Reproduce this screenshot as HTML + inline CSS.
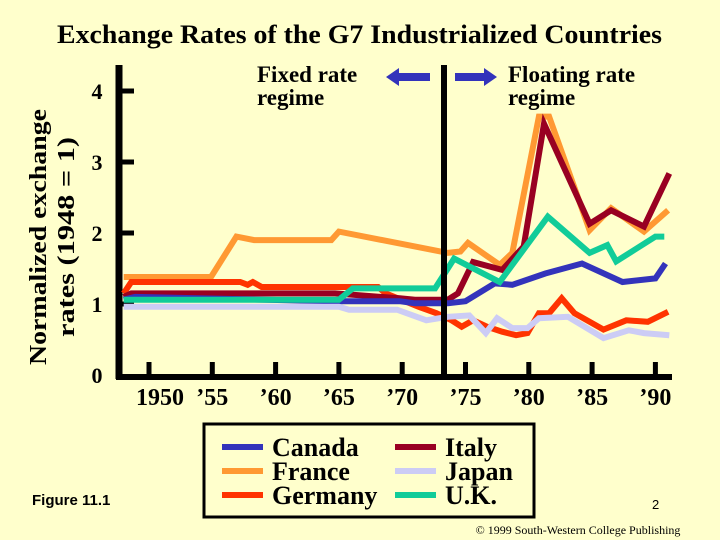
<!DOCTYPE html>
<html><head><meta charset="utf-8"><style>
body{margin:0;background:#ffffcc;}
svg{display:block;font-family:"Liberation Serif",serif;font-weight:bold;}
</style></head><body>
<svg id="chart" width="720" height="540" viewBox="0 0 720 540">
<rect width="720" height="540" fill="#ffffcc"/>
<text x="57" y="43" font-size="26" textLength="605" lengthAdjust="spacingAndGlyphs">Exchange Rates of the G7 Industrialized Countries</text>
<text transform="translate(46,237) rotate(-90)" font-size="24" text-anchor="middle"><tspan x="0" y="0" textLength="256" lengthAdjust="spacingAndGlyphs">Normalized exchange</tspan><tspan x="0" y="28" textLength="200" lengthAdjust="spacingAndGlyphs">rates (1948 = 1)</tspan></text>
<g id="axes"></g>
<g id="series"></g>
<line x1="444" y1="65" x2="444" y2="380" stroke="#000" stroke-width="6"/>
<text x="257" y="82" font-size="23"><tspan x="257" y="82">Fixed rate</tspan><tspan x="257" y="105">regime</tspan></text>
<polygon points="386,77 399,68 399,73 430,73 430,81 399,81 399,86" fill="#3333bb"/>
<polygon points="497,77 484,68 484,73 455,73 455,81 484,81 484,86" fill="#3333bb"/>
<text x="508" y="82" font-size="23"><tspan x="508" y="82">Floating rate</tspan><tspan x="508" y="105">regime</tspan></text>
<rect x="204" y="424" width="330" height="93" fill="none" stroke="#000" stroke-width="3"/>
<g id="legend"></g>
<text x="32" y="505" font-family="Liberation Sans, sans-serif" font-size="15">Figure 11.1</text>
<text x="652" y="509" font-family="Liberation Sans, sans-serif" font-size="13" font-weight="normal">2</text>
<text x="578" y="534" font-size="12" font-weight="normal" text-anchor="middle">© 1999 South-Western College Publishing</text>
</svg>
<script>
const yTicks=[0,1,2,3,4];
const xTickYears=[1950,1955,1960,1965,1970,1975,1980,1985,1990];
const xTickLabels=["1950","’55","’60","’65","’70","’75","’80","’85","’90"];
const canadaYears=[1948,1948.9,1964.7,1969.8,1971.0,1973.6,1975.0,1977.3,1978.7,1981.3,1984.2,1987.4,1990.0,1990.8];
const canadaVals=[1.06,1.1,1.04,1.04,1.01,1.01,1.04,1.29,1.27,1.43,1.57,1.31,1.36,1.57];
const franceYears=[1948,1954.9,1956.9,1958.3,1964.4,1965.0,1973.6,1974.6,1975.2,1977.7,1978.7,1980.8,1981.6,1984.8,1986.5,1989.1,1991.0];
const franceVals=[1.38,1.38,1.95,1.9,1.9,2.02,1.72,1.74,1.86,1.55,1.72,3.64,3.64,2.04,2.35,2.02,2.32];
const germanyYears=[1948,1948.6,1957.2,1957.8,1958.2,1958.9,1968.1,1968.7,1971.3,1972.7,1973.9,1974.7,1975.6,1976.7,1977.9,1979.0,1979.9,1980.8,1981.6,1982.6,1983.6,1985.9,1987.7,1989.4,1991.0];
const germanyVals=[1.15,1.31,1.31,1.27,1.31,1.24,1.24,1.15,0.96,0.87,0.77,0.68,0.77,0.68,0.61,0.56,0.59,0.87,0.87,1.08,0.87,0.64,0.77,0.75,0.89];
const italyYears=[1948,1948.6,1964.7,1969.8,1971.0,1973.6,1974.4,1975.6,1977.9,1979.6,1981.2,1984.8,1986.5,1989.1,1991.1];
const italyVals=[1.1,1.15,1.15,1.08,1.06,1.06,1.15,1.59,1.48,1.81,3.54,2.13,2.32,2.09,2.84];
const japanYears=[1948,1965.0,1965.8,1969.6,1971.9,1973.6,1975.3,1976.6,1977.5,1978.7,1979.9,1980.8,1983.1,1985.9,1987.9,1989.1,1991.1];
const japanVals=[0.96,0.96,0.92,0.92,0.77,0.82,0.84,0.59,0.8,0.66,0.66,0.8,0.82,0.52,0.63,0.59,0.56];
const ukYears=[1948,1965.0,1966.1,1972.6,1974.1,1977.7,1981.5,1984.8,1986.2,1986.9,1990.0,1990.7];
const ukVals=[1.06,1.06,1.22,1.22,1.64,1.31,2.23,1.72,1.83,1.6,1.95,1.95];
const seriesNames=["canada","france","germany","italy","japan","uk"];
const seriesLabels=["Canada","France","Germany","Italy","Japan","U.K."];
const seriesColors=["#3333bb","#ff9933","#ff3300","#990022","#ccccf5","#11cc99"];

const NS="http://www.w3.org/2000/svg";
function xs(yr){return 149+(yr-1950)*12.66;}
function ys(v){return 375-v*71;}
function mk(tag,attrs,parent){const e=document.createElementNS(NS,tag);for(const k in attrs)e.setAttribute(k,attrs[k]);parent.appendChild(e);return e;}

const axes=document.getElementById('axes');
let e=mk('line',{x1:119,y1:65,x2:119,y2:379,stroke:'#000','stroke-width':7},axes);


e=mk('line',{x1:116,y1:377,x2:672,y2:377,stroke:'#000','stroke-width':6},axes);


yTicks.forEach(t=>{
  if(t>0){const l=mk('line',{x1:119,y1:ys(t),x2:134,y2:ys(t),stroke:'#000','stroke-width':5},axes);
  
  }
  const tx=mk('text',{x:97,y:ys(t)+8,'font-size':22,'text-anchor':'middle'},axes);tx.textContent=t;
  
  
});
xTickYears.forEach(y=>{
  const l=mk('line',{x1:xs(y),y1:362,x2:xs(y),y2:377,stroke:'#000','stroke-width':5},axes);
  
  
});
xTickLabels.forEach((s,i)=>{
  const cx=i===0?160:xs(xTickYears[i]);
  const tx=mk('text',{x:cx,y:405,'font-size':24,'text-anchor':'middle'},axes);tx.textContent=s;
  
  
});

const allYears=[canadaYears,franceYears,germanyYears,italyYears,japanYears,ukYears];
const allVals=[canadaVals,franceVals,germanyVals,italyVals,japanVals,ukVals];
const order=[1,2,3,0,4,5];
const sg=document.getElementById('series');
order.forEach(i=>{
  const pts=allYears[i].map((y,j)=>xs(y).toFixed(1)+','+ys(allVals[i][j]).toFixed(1)).join(' ');
  const p=mk('polyline',{points:pts,fill:'none',stroke:seriesColors[i],'stroke-width':6,'stroke-linejoin':'miter'},sg);
  
  
});
const lg=document.getElementById('legend');
seriesLabels.forEach((s,i)=>{
  const col=Math.floor(i/3),row=i%3;
  const x0=col?395:222,yy=447+row*24;
  const l=mk('line',{x1:x0,y1:yy,x2:x0+41,y2:yy,stroke:seriesColors[i],'stroke-width':6},lg);
  
  
  const t=mk('text',{x:x0+50,y:yy+9,'font-size':26},lg);t.textContent=s;
  
  
});
</script>
</body></html>
